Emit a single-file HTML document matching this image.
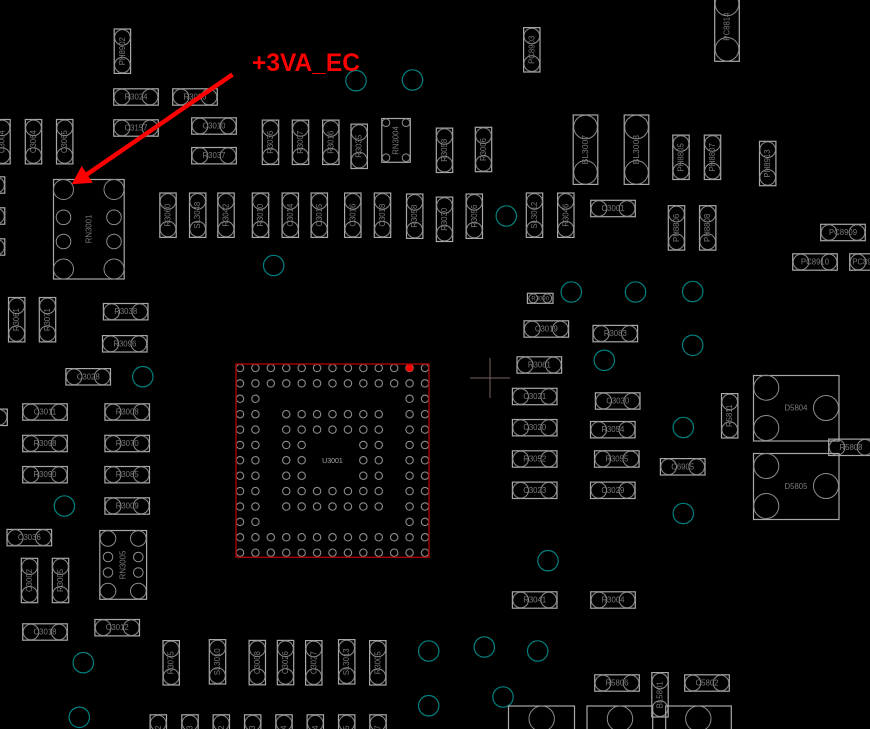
<!DOCTYPE html>
<html><head><meta charset="utf-8"><title>U3001 PCB layout</title>
<style>
html,body{margin:0;padding:0;background:#000;width:870px;height:729px;overflow:hidden}
svg{display:block}
.b{fill:none;stroke:#a8a8a8;stroke-width:1.2}
.c{fill:none;stroke:#8c8c8c;stroke-width:1}
.t{fill:none;stroke:#008080;stroke-width:1.2}
.p{fill:none;stroke:#8c8c8c;stroke-width:1.1}
text{font-family:"Liberation Sans",sans-serif;font-size:7.8px;fill:#7a7a7a;text-anchor:middle}
.r{transform:rotate(-90deg)}
</style></head><body>
<svg xmlns="http://www.w3.org/2000/svg" width="870" height="729" viewBox="0 0 870 729">
<defs>
<g id="h"><rect class="b" x="-22.3" y="-8.2" width="44.6" height="16.4"/><circle class="c" cx="-14" r="7.8"/><circle class="c" cx="14" r="7.8"/></g>
<g id="v"><rect class="b" x="-8.2" y="-22.2" width="16.4" height="44.4"/><circle class="c" cy="-13.8" r="7.8"/><circle class="c" cy="13.8" r="7.8"/></g>
<g id="l"><rect class="b" x="-12.3" y="-34.7" width="24.6" height="69.4"/><circle class="c" cy="-22.7" r="11.8"/><circle class="c" cy="22.7" r="11.8"/></g>
<g id="s"><rect class="b" x="-12.8" y="-5" width="25.6" height="10"/><circle class="c" cx="-7" r="4.4"/><circle class="c" cx="7" r="4.4"/></g>
<circle id="o" class="p" r="3.7"/>
<g id="ra"><use href="#o" x="0"/><use href="#o" x="15.42"/><use href="#o" x="30.83"/><use href="#o" x="46.25"/><use href="#o" x="61.67"/><use href="#o" x="77.08"/><use href="#o" x="92.5"/><use href="#o" x="107.92"/><use href="#o" x="123.33"/><use href="#o" x="138.75"/><use href="#o" x="154.17"/><use href="#o" x="169.58"/><use href="#o" x="185"/></g>
<g id="re"><use href="#o" x="0"/><use href="#o" x="15.42"/><use href="#o" x="169.58"/><use href="#o" x="185"/></g>
<g id="rm"><use href="#re"/><use href="#o" x="46.25"/><use href="#o" x="61.67"/><use href="#o" x="77.08"/><use href="#o" x="92.5"/><use href="#o" x="107.92"/><use href="#o" x="123.33"/><use href="#o" x="138.75"/></g>
<g id="rs"><use href="#re"/><use href="#o" x="46.25"/><use href="#o" x="61.67"/><use href="#o" x="123.33"/><use href="#o" x="138.75"/></g>
</defs>
<rect width="870" height="729" fill="#000"/>

<!-- via circles -->
<g class="t">
<circle cx="356" cy="80.7" r="10.2"/><circle cx="412.5" cy="80" r="10.2"/><circle cx="506.3" cy="216" r="10.2"/><circle cx="273.7" cy="265.5" r="10.2"/>
<circle cx="571.3" cy="292" r="10.2"/><circle cx="635.5" cy="292" r="10.2"/><circle cx="692.7" cy="291.5" r="10.2"/><circle cx="692.7" cy="345.3" r="10.2"/>
<circle cx="604.3" cy="360.3" r="10.2"/><circle cx="683.3" cy="427.5" r="10.2"/><circle cx="683.3" cy="513.5" r="10.2"/><circle cx="142.8" cy="376.7" r="10.2"/>
<circle cx="64.4" cy="506" r="10.2"/><circle cx="83.3" cy="662.7" r="10.2"/><circle cx="79.3" cy="717.3" r="10.2"/><circle cx="548" cy="560.7" r="10.2"/>
<circle cx="428.7" cy="651" r="10.2"/><circle cx="484.3" cy="647" r="10.2"/><circle cx="537.7" cy="651" r="10.2"/><circle cx="428.7" cy="705.7" r="10.2"/><circle cx="503" cy="697" r="10.2"/>
</g>

<!-- horizontal parts -->
<g transform="translate(136 97)"><use href="#h"/><text y="2.5">R3024</text></g>
<g transform="translate(195 97)"><use href="#h"/><text y="2.5">R3026</text></g>
<g transform="translate(136 128)"><use href="#h"/><text y="2.5">C3157</text></g>
<g transform="translate(214 126)"><use href="#h"/><text y="2.5">C3010</text></g>
<g transform="translate(214 155.7)"><use href="#h"/><text y="2.5">R3037</text></g>
<g transform="translate(613 208.5)"><use href="#h"/><text y="2.5">C3001</text></g>
<g transform="translate(843 232.5)"><use href="#h"/><text y="2.5">PC8909</text></g>
<g transform="translate(815 262)"><use href="#h"/><text y="2.5">PC8910</text></g>
<g transform="translate(872 262)"><use href="#h"/><text y="2.5" x="-6">PC8911</text></g>
<g transform="translate(-17.5 185)"><use href="#h"/></g>
<g transform="translate(-17.5 216)"><use href="#h"/></g>
<g transform="translate(-17.5 247)"><use href="#h"/></g>
<g transform="translate(-15 417.3)"><use href="#h"/></g>
<g transform="translate(125.7 311.7)"><use href="#h"/><text y="2.5">R3038</text></g>
<g transform="translate(124.8 343.8)"><use href="#h"/><text y="2.5">R3096</text></g>
<g transform="translate(88.2 376.8)"><use href="#h"/><text y="2.5">C3028</text></g>
<g transform="translate(45 412)"><use href="#h"/><text y="2.5">C3011</text></g>
<g transform="translate(127.2 412)"><use href="#h"/><text y="2.5">R3008</text></g>
<g transform="translate(45 443.5)"><use href="#h"/><text y="2.5">R3098</text></g>
<g transform="translate(127.2 443.5)"><use href="#h"/><text y="2.5">R3070</text></g>
<g transform="translate(45 474.7)"><use href="#h"/><text y="2.5">R3090</text></g>
<g transform="translate(127.2 474.7)"><use href="#h"/><text y="2.5">R3085</text></g>
<g transform="translate(127.2 506)"><use href="#h"/><text y="2.5">R3009</text></g>
<g transform="translate(29.3 537.6)"><use href="#h"/><text y="2.5">C3036</text></g>
<g transform="translate(45 632)"><use href="#h"/><text y="2.5">C3018</text></g>
<g transform="translate(117.2 627.7)"><use href="#h"/><text y="2.5">C3012</text></g>
<g transform="translate(540.2 298.3)"><use href="#s"/><text y="2.2" style="font-size:6px">R3090</text></g>
<g transform="translate(546.3 329)"><use href="#h"/><text y="2.5">C3019</text></g>
<g transform="translate(615.3 333.6)"><use href="#h"/><text y="2.5">R3083</text></g>
<g transform="translate(539.3 365)"><use href="#h"/><text y="2.5">R3061</text></g>
<g transform="translate(534.7 396.5)"><use href="#h"/><text y="2.5">C3021</text></g>
<g transform="translate(617.7 401)"><use href="#h"/><text y="2.5">C3030</text></g>
<g transform="translate(534.7 427.7)"><use href="#h"/><text y="2.5">C3020</text></g>
<g transform="translate(612.8 429.7)"><use href="#h"/><text y="2.5">R3054</text></g>
<g transform="translate(534.7 459)"><use href="#h"/><text y="2.5">R3052</text></g>
<g transform="translate(616.8 459)"><use href="#h"/><text y="2.5">R3055</text></g>
<g transform="translate(682.7 466.8)"><use href="#h"/><text y="2.5">C6905</text></g>
<g transform="translate(534.7 490.3)"><use href="#h"/><text y="2.5">C3023</text></g>
<g transform="translate(612.8 490.3)"><use href="#h"/><text y="2.5">C3029</text></g>
<g transform="translate(851 447.3)"><use href="#h"/><text y="2.5">R5808</text></g>
<g transform="translate(534.7 600)"><use href="#h"/><text y="2.5">R3041</text></g>
<g transform="translate(613 600)"><use href="#h"/><text y="2.5">R3004</text></g>
<g transform="translate(617 683)"><use href="#h"/><text y="2.5">R5806</text></g>
<g transform="translate(707 683)"><use href="#h"/><text y="2.5">C5802</text></g>

<!-- vertical parts -->
<g transform="translate(122.4 51.2)"><use href="#v"/><text class="r" y="2.5">PH8902</text></g>
<g transform="translate(2 141.7)"><use href="#v"/><text class="r" y="2.5">C3004</text></g>
<g transform="translate(33.5 141.7)"><use href="#v"/><text class="r" y="2.5">C3064</text></g>
<g transform="translate(64.7 141.7)"><use href="#v"/><text class="r" y="2.5">C3065</text></g>
<g transform="translate(270.5 142.3)"><use href="#v"/><text class="r" y="2.5">R3036</text></g>
<g transform="translate(300.5 142.3)"><use href="#v"/><text class="r" y="2.5">R3007</text></g>
<g transform="translate(330.8 142.3)"><use href="#v"/><text class="r" y="2.5">R3016</text></g>
<g transform="translate(359.2 146.3)"><use href="#v"/><text class="r" y="2.5">R3035</text></g>
<g transform="translate(444.5 150.3)"><use href="#v"/><text class="r" y="2.5">R3058</text></g>
<g transform="translate(483.5 149.5)"><use href="#v"/><text class="r" y="2.5">R3006</text></g>
<g transform="translate(531.8 49.8)"><use href="#v"/><text class="r" y="2.5">PC8903</text></g>
<g transform="translate(681 157.3)"><use href="#v"/><text class="r" y="2.5">PH8805</text></g>
<g transform="translate(712.5 157.3)"><use href="#v"/><text class="r" y="2.5">PH8807</text></g>
<g transform="translate(767.7 163.5)"><use href="#v"/><text class="r" y="2.5">PH8913</text></g>
<g transform="translate(676.5 227.9)"><use href="#v"/><text class="r" y="2.5">PH8806</text></g>
<g transform="translate(707.7 227.9)"><use href="#v"/><text class="r" y="2.5">PH8808</text></g>
<g transform="translate(168 215.2)"><use href="#v"/><text class="r" y="2.5">R3060</text></g>
<g transform="translate(197.7 215.2)"><use href="#v"/><text class="r" y="2.5">SL3048</text></g>
<g transform="translate(226 215.2)"><use href="#v"/><text class="r" y="2.5">R3042</text></g>
<g transform="translate(260.5 215.2)"><use href="#v"/><text class="r" y="2.5">R3010</text></g>
<g transform="translate(290.3 215.2)"><use href="#v"/><text class="r" y="2.5">C3014</text></g>
<g transform="translate(319.3 215.2)"><use href="#v"/><text class="r" y="2.5">C3015</text></g>
<g transform="translate(352.8 215.2)"><use href="#v"/><text class="r" y="2.5">C3016</text></g>
<g transform="translate(382.5 215.2)"><use href="#v"/><text class="r" y="2.5">C3018</text></g>
<g transform="translate(414.7 216.2)"><use href="#v"/><text class="r" y="2.5">R3058</text></g>
<g transform="translate(444.5 219.3)"><use href="#v"/><text class="r" y="2.5">R3030</text></g>
<g transform="translate(474.3 216.2)"><use href="#v"/><text class="r" y="2.5">R3056</text></g>
<g transform="translate(534.5 215.2)"><use href="#v"/><text class="r" y="2.5">SL3012</text></g>
<g transform="translate(565.8 215.2)"><use href="#v"/><text class="r" y="2.5">R3046</text></g>
<g transform="translate(16.7 319.7)"><use href="#v"/><text class="r" y="2.5">R3061</text></g>
<g transform="translate(47.5 319.7)"><use href="#v"/><text class="r" y="2.5">R3071</text></g>
<g transform="translate(29.5 580.5)"><use href="#v"/><text class="r" y="2.5">C3002</text></g>
<g transform="translate(60.5 580.5)"><use href="#v"/><text class="r" y="2.5">R3005</text></g>
<g transform="translate(171.2 662.8)"><use href="#v"/><text class="r" y="2.5">R3075</text></g>
<g transform="translate(217.5 661.8)"><use href="#v"/><text class="r" y="2.5">SL3010</text></g>
<g transform="translate(257.3 662.6)"><use href="#v"/><text class="r" y="2.5">C3008</text></g>
<g transform="translate(285.5 662.6)"><use href="#v"/><text class="r" y="2.5">C3026</text></g>
<g transform="translate(313.8 662.8)"><use href="#v"/><text class="r" y="2.5">C3027</text></g>
<g transform="translate(346.7 661.8)"><use href="#v"/><text class="r" y="2.5">SL3013</text></g>
<g transform="translate(377.8 662.8)"><use href="#v"/><text class="r" y="2.5">R3005</text></g>
<g transform="translate(729.7 415.8)"><use href="#v"/><text class="r" y="2.5">R5811</text></g>
<g transform="translate(660 694.8)"><use href="#v"/><text class="r" y="2.5">BL5801</text></g>
<g transform="translate(158.3 737)"><use href="#v"/><text class="r" y="2.5">R3042</text></g>
<g transform="translate(190 737)"><use href="#v"/><text class="r" y="2.5">R3043</text></g>
<g transform="translate(221.3 737)"><use href="#v"/><text class="r" y="2.5">R3062</text></g>
<g transform="translate(252.7 737)"><use href="#v"/><text class="r" y="2.5">R3063</text></g>
<g transform="translate(284 737)"><use href="#v"/><text class="r" y="2.5">R3044</text></g>
<g transform="translate(315.3 737)"><use href="#v"/><text class="r" y="2.5">R3074</text></g>
<g transform="translate(346.7 737)"><use href="#v"/><text class="r" y="2.5">R3045</text></g>
<g transform="translate(378 737)"><use href="#v"/><text class="r" y="2.5">R3047</text></g>

<!-- large parts -->
<g transform="translate(585.5 149.7)"><use href="#l"/><text class="r" y="2.5" style="font-size:8.5px">BL3007</text></g>
<g transform="translate(636.5 149.7)"><use href="#l"/><text class="r" y="2.5" style="font-size:8.5px">BL3008</text></g>
<g transform="translate(727 26.6)"><use href="#l"/><text class="r" y="2.5">PC8814</text></g>

<!-- resistor networks -->
<rect class="b" x="53.5" y="179.5" width="70.7" height="99.5"/>
<g class="c"><circle cx="63.5" cy="189.5" r="10"/><circle cx="114" cy="189.5" r="10"/><circle cx="63.5" cy="269" r="10"/><circle cx="114" cy="269" r="10"/><circle cx="63.5" cy="217.3" r="7.3"/><circle cx="114" cy="217.3" r="7.3"/><circle cx="63.5" cy="241.5" r="7.3"/><circle cx="114" cy="241.5" r="7.3"/></g>
<text transform="translate(91.5 229) rotate(-90)">RN3001</text>
<rect class="b" x="381.8" y="118.5" width="28.5" height="43.8"/>
<g class="c"><circle cx="386" cy="122.7" r="3.8"/><circle cx="406" cy="122.7" r="3.8"/><circle cx="386" cy="157.7" r="3.8"/><circle cx="406" cy="157.7" r="3.8"/></g>
<text transform="translate(398.5 140.5) rotate(-90)">RN3004</text>
<rect class="b" x="99.8" y="530.5" width="46.8" height="68.8"/>
<g class="c"><circle cx="108" cy="538.5" r="7.8"/><circle cx="138.3" cy="538.5" r="7.8"/><circle cx="108" cy="591" r="7.8"/><circle cx="138.3" cy="591" r="7.8"/><circle cx="108" cy="557" r="4.8"/><circle cx="138.3" cy="557" r="4.8"/><circle cx="108" cy="572.5" r="4.8"/><circle cx="138.3" cy="572.5" r="4.8"/></g>
<text transform="translate(125.5 565) rotate(-90)">RN3005</text>

<!-- D5804 / D5805 -->
<rect class="b" x="753.5" y="375.5" width="85.5" height="65.5"/>
<g class="c"><circle cx="766.3" cy="387.7" r="12.5"/><circle cx="766.3" cy="428" r="12.5"/><circle cx="826" cy="408" r="12.5"/></g>
<text x="796" y="410.5">D5804</text>
<rect class="b" x="753.5" y="453.5" width="85.5" height="66"/>
<g class="c"><circle cx="766.3" cy="466" r="12.5"/><circle cx="766.3" cy="506" r="12.5"/><circle cx="826" cy="486" r="12.5"/></g>
<text x="796" y="489">D5805</text>

<!-- bottom connectors -->
<rect class="b" x="508.5" y="706" width="66" height="40"/><circle class="c" cx="541.7" cy="718.7" r="12.7"/>
<rect class="b" x="587" y="706" width="65.7" height="40"/><circle class="c" cx="620" cy="718.7" r="12.7"/>
<rect class="b" x="665.7" y="706" width="65.6" height="40"/><circle class="c" cx="698.3" cy="718.7" r="12.7"/>

<!-- U3001 -->
<g transform="translate(240 368)">
<use href="#ra"/><use href="#ra" y="15.4"/><use href="#re" y="30.8"/><use href="#rm" y="46.2"/><use href="#rm" y="61.6"/><use href="#rs" y="77"/><use href="#rs" y="92.3"/><use href="#rs" y="107.7"/><use href="#rm" y="123.1"/><use href="#rm" y="138.5"/><use href="#re" y="153.9"/><use href="#ra" y="169.3"/><use href="#ra" y="184.7"/>
<circle cx="169.58" r="3.8" fill="#f00"/>
</g>
<rect x="236" y="364" width="193" height="193.3" fill="none" stroke="#a80000" stroke-width="1.4"/>
<text x="332.5" y="463" style="fill:#aaa;font-size:7px">U3001</text>

<!-- crosshair -->
<path d="M470 378H510M490 358V398" stroke="#7f6262" stroke-width="1" fill="none"/>

<!-- annotation -->
<path d="M232.5 74.5L86 175" stroke="#f00" stroke-width="4.4" fill="none"/>
<path d="M71.7 184.3L81.7 166L92.7 182.7Z" fill="#f00"/>
<text x="252" y="71" textLength="108" lengthAdjust="spacingAndGlyphs" style="font-size:25.4px;font-weight:bold;fill:#f00;text-anchor:start">+3VA_EC</text>
</svg>
</body></html>
